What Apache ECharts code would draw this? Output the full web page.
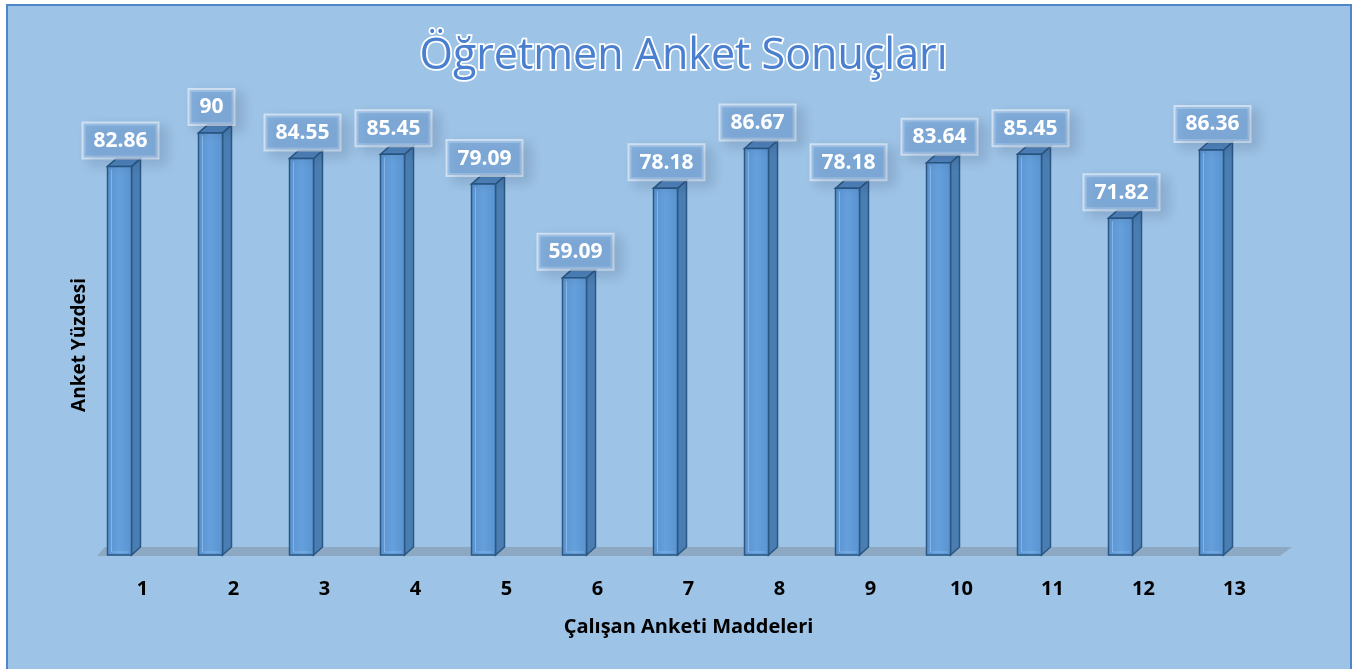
<!DOCTYPE html>
<html>
<head>
<meta charset="utf-8">
<script src="https://cdn.jsdelivr.net/npm/echarts@6/dist/echarts.min.js"></script>
<style>
  html, body { margin: 0; padding: 0; background: #fff; }
  #chart { width: 1367px; height: 669px; }
</style>
</head>
<body>
<div id="chart"></div>
<script>
// anket maddeleri ve yüzdeler
const categories = ['1', '2', '3', '4', '5', '6', '7', '8', '9', '10', '11', '12', '13'];
const scores = [82.86, 90, 84.55, 85.45, 79.09, 59.09, 78.18, 86.67, 78.18, 83.64, 85.45, 71.82, 86.36];
const chartTitle = 'Öğretmen Anket Sonuçları';
const yName = 'Anket Yüzdesi';
const xName = 'Çalışan Anketi Maddeleri';

const myChart = echarts.init(document.getElementById('chart'));

const FONT = '"Open Sans", "Noto Sans", sans-serif';

// 3B sütun: ön yüz, yan yüz, üst yüz + etiket kutusu
function renderBar (params, api) {
  const base = api.coord([api.value(0), 0]);
  const top = api.coord([api.value(0), api.value(1)]);
  const x0 = base[0] - 35;
  const x1 = base[0] - 11;
  const dx = 9, dy = 8;
  const edge = '#2a5783';
  return {
    type: 'group',
    children: [
      {
        type: 'polygon',
        shape: { points: [[x1, top[1]], [x1 + dx, top[1] - dy], [x1 + dx, base[1] - dy], [x1, base[1]]] },
        style: { fill: '#4a7db2', stroke: edge, lineWidth: 1.5 }
      },
      {
        type: 'polygon',
        shape: { points: [[x0, top[1]], [x0 + dx, top[1] - dy], [x1 + dx, top[1] - dy], [x1, top[1]]] },
        style: { fill: '#4f86bf', stroke: edge, lineWidth: 1.5 }
      },
      {
        type: 'rect',
        shape: { x: x0, y: top[1], width: x1 - x0, height: base[1] - top[1] },
        style: {
          fill: new echarts.graphic.LinearGradient(0, 0, 1, 0, [
            { offset: 0, color: '#5a93cf' },
            { offset: 0.5, color: '#65a0dc' },
            { offset: 1, color: '#5a93cf' }
          ]),
          stroke: edge,
          lineWidth: 1.5
        }
      },
      {
        type: 'line',
        shape: { x1: x0 + 4, y1: top[1] + 3, x2: x0 + 4, y2: base[1] - 3 },
        style: { stroke: 'rgba(160,200,240,0.6)', lineWidth: 1 }
      },
      {
        type: 'line',
        shape: { x1: x0 + 4, y1: base[1] - 3, x2: x1 - 3, y2: base[1] - 3 },
        style: { stroke: 'rgba(160,200,240,0.5)', lineWidth: 1 }
      },
      {
        type: 'text',
        x: base[0] - 22,
        y: top[1] - dy - 1,
        style: {
          text: String(api.value(1)),
          fill: '#ffffff',
          font: 'bold 21px ' + FONT,
          align: 'center',
          verticalAlign: 'bottom',
          backgroundColor: 'rgba(110,160,215,0.5)',
          borderColor: 'rgba(230,240,250,0.7)',
          borderWidth: 2,
          padding: [7, 10, 6, 10],
          shadowColor: 'rgba(20,40,70,0.25)',
          shadowBlur: 12,
          shadowOffsetX: 7,
          shadowOffsetY: 5
        }
      }
    ]
  };
}

// zemin
function renderFloor (params, api) {
  if (params.dataIndex !== 0) return;
  const left = api.coord([0, 0]);
  const right = api.coord([categories.length - 1, 0]);
  const band = api.size([1, 0])[0];
  const xl = left[0] - band / 2;
  const xr = right[0] + band / 2;
  const y = left[1] + 1;
  return {
    type: 'polygon',
    shape: { points: [[xl, y], [xl + 8, y - 9], [xr + 12, y - 9], [xr, y]] },
    style: { fill: 'rgba(130,150,170,0.6)' },
    z2: -1
  };
}

const option = {
  backgroundColor: '#ffffff',
  animation: false,
  graphic: [
    {
      type: 'rect',
      left: 6, top: 4,
      shape: { width: 1344, height: 680 },
      style: { fill: '#9dc3e6', stroke: '#4e86c8', lineWidth: 2 },
      z: -10
    },
    {
      type: 'text',
      left: 'center',
      top: 33,
      style: {
        text: chartTitle,
        font: '500 43px ' + FONT,
        fill: '#4a7fd0',
        stroke: '#ffffff',
        lineWidth: 3.5,
        shadowColor: 'rgba(30,60,110,0.4)',
        shadowBlur: 4,
        shadowOffsetX: 1,
        shadowOffsetY: 2
      }
    },
    {
      type: 'text',
      x: 80,
      y: 345,
      rotation: Math.PI / 2,
      style: {
        text: yName,
        font: 'bold 19px ' + FONT,
        fill: '#000',
        align: 'center',
        verticalAlign: 'middle'
      }
    }
  ],
  grid: {
    left: 97,
    right: 87,
    top: 86,
    bottom: 114
  },
  xAxis: {
    type: 'category',
    data: categories,
    name: xName,
    nameLocation: 'middle',
    nameGap: 62,
    nameTextStyle: { fontFamily: FONT, fontWeight: 'bold', fontSize: 20, color: '#000' },
    axisLine: { show: false },
    axisTick: { show: false },
    axisLabel: { margin: 24, fontFamily: FONT, fontWeight: 'bold', fontSize: 20, color: '#000' }
  },
  yAxis: {
    type: 'value',
    min: 0,
    max: 100,
    show: false,
    splitLine: { show: false }
  },
  series: [
    {
      type: 'custom',
      renderItem: renderFloor,
      data: scores.map((v, i) => [i, v]),
      z: 1,
      silent: true
    },
    {
      type: 'custom',
      renderItem: renderBar,
      data: scores.map((v, i) => [i, v]),
      z: 2
    }
  ]
};

myChart.setOption(option);
</script>
</body>
</html>
